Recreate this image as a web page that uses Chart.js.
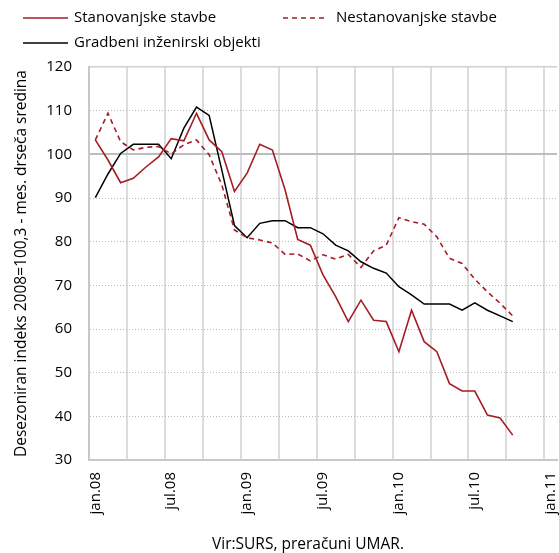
<!DOCTYPE html>
<html>
<head>
<meta charset="utf-8">
<script src="https://cdn.jsdelivr.net/npm/chart.js@4.4.1/dist/chart.umd.min.js"></script>
<style>
  html, body { margin: 0; padding: 0; background: #fff; }
</style>
</head>
<body>
<canvas id="chart" width="559" height="553"></canvas>
<script>
// mesecne kategorije, jan.08 - jan.11
const months = [
  'jan.08', 'feb.08', 'mar.08', 'apr.08', 'maj.08', 'jun.08', 'jul.08', 'avg.08', 'sep.08', 'okt.08', 'nov.08', 'dec.08',
  'jan.09', 'feb.09', 'mar.09', 'apr.09', 'maj.09', 'jun.09', 'jul.09', 'avg.09', 'sep.09', 'okt.09', 'nov.09', 'dec.09',
  'jan.10', 'feb.10', 'mar.10', 'apr.10', 'maj.10', 'jun.10', 'jul.10', 'avg.10', 'sep.10', 'okt.10', 'nov.10', 'dec.10',
  'jan.11'
];

const stanovanjske = [
  103.3, 98.7, 93.5, 94.5, 97.1, 99.4, 103.6, 103.1, 109.4, 103.3, 100.6, 91.5,
  95.7, 102.3, 101.0, 91.9, 80.5, 79.2, 72.4, 67.4, 61.7, 66.6, 62.0, 61.7,
  54.8, 64.3, 57.1, 54.8, 47.5, 45.8, 45.8, 40.3, 39.6, 35.7
];
const nestanovanjske = [
  103.3, 109.4, 102.9, 101.0, 101.6, 101.8, 100.1, 102.2, 103.3, 99.9, 93.0, 82.7,
  80.9, 80.4, 79.7, 77.1, 77.2, 75.6, 77.0, 76.0, 77.1, 74.1, 77.9, 79.2,
  85.5, 84.6, 84.0, 81.1, 76.2, 75.0, 71.4, 68.5, 65.9, 63.0
];
const gradbeni = [
  90.1, 95.5, 100.2, 102.3, 102.3, 102.3, 99.0, 106.0, 110.8, 108.9, 96.4, 83.7,
  80.9, 84.2, 84.8, 84.8, 83.2, 83.2, 81.8, 79.2, 77.9, 75.4, 73.9, 72.8,
  69.7, 67.8, 65.7, 65.7, 65.7, 64.3, 66.0, 64.3, 63.0, 61.7
];

const seriesNames = ['Stanovanjske stavbe', 'Nestanovanjske stavbe', 'Gradbeni inženirski objekti'];
const yTitle = 'Desezoniran indeks 2008=100,3 - mes. drseča sredina';
const sourceNote = 'Vir:SURS, preračuni UMAR.';

const RED = '#a51d24';
const FONT = '"Open Sans", sans-serif';

// legenda in vir sta narisana rocno, ker excel postavitev ni centrirana
const extras = {
  id: 'extras',
  afterDraw(chart) {
    const ctx = chart.ctx;
    const spots = [
      {i: 0, x: 23, y: 18, len: 45, gap: 6},
      {i: 1, x: 283, y: 18, len: 42, gap: 11},
      {i: 2, x: 23, y: 43, len: 45, gap: 6}
    ];
    ctx.save();
    ctx.font = '15px ' + FONT;
    ctx.textBaseline = 'middle';
    ctx.textAlign = 'left';
    spots.forEach(s => {
      const ds = chart.data.datasets[s.i];
      ctx.strokeStyle = ds.borderColor;
      ctx.lineWidth = ds.borderWidth;
      ctx.setLineDash(ds.borderDash || []);
      ctx.beginPath();
      ctx.moveTo(s.x, s.y);
      ctx.lineTo(s.x + s.len, s.y);
      ctx.stroke();
      ctx.fillStyle = '#000';
      ctx.fillText(ds.label, s.x + s.len + s.gap, s.y);
    });
    ctx.font = '15.5px ' + FONT;
    ctx.textAlign = 'center';
    ctx.fillText(sourceNote, 308, 545);
    ctx.restore();
  }
};

new Chart(document.getElementById('chart'), {
  type: 'line',
  data: {
    labels: months,
    datasets: [
      {
        label: seriesNames[0],
        data: stanovanjske,
        borderColor: RED,
        borderWidth: 1.6
      },
      {
        label: seriesNames[1],
        data: nestanovanjske,
        borderColor: RED,
        borderWidth: 1.6,
        borderDash: [5, 4]
      },
      {
        label: seriesNames[2],
        data: gradbeni,
        borderColor: '#000',
        borderWidth: 1.5
      }
    ]
  },
  options: {
    responsive: false,
    animation: false,
    devicePixelRatio: 1,
    layout: { padding: { top: 67, right: 2, bottom: 0, left: 0 } },
    elements: { point: { radius: 0 }, line: { tension: 0 } },
    plugins: {
      legend: { display: false },
      tooltip: { enabled: false }
    },
    scales: {
      x: {
        type: 'category',
        offset: true,
        grid: {
          offset: true,
          drawTicks: false,
          lineWidth: 2,
          color: ctx => (ctx.index % 3 === 0 || ctx.index === months.length) ? '#dcdcdc' : 'rgba(0,0,0,0)'
        },
        border: { color: '#c8c8c8', width: 2 },
        ticks: {
          autoSkip: false,
          minRotation: 90,
          maxRotation: 90,
          padding: 12,
          color: '#000',
          font: { family: FONT, size: 15 },
          callback: (v, i) => i % 6 === 0 ? months[i] : ''
        },
        afterFit: s => { s.height = 93; s.paddingLeft = 0; s.paddingRight = 0; }
      },
      y: {
        min: 30,
        max: 120,
        ticks: {
          stepSize: 10,
          padding: 17,
          color: '#000',
          font: { family: FONT, size: 15 }
        },
        grid: {
          drawTicks: false,
          lineWidth: 1,
          color: ctx => [30, 100, 120].includes(ctx.tick && ctx.tick.value) ? 'rgba(0,0,0,0)' : '#b8b8b8'
        },
        border: { color: '#c8c8c8', width: 2, dash: [1, 2] },
        title: {
          display: true,
          text: yTitle,
          color: '#000',
          font: { family: FONT, size: 15.5 },
          padding: { top: 12, bottom: 0 }
        },
        afterFit: s => { s.width = 89; s.paddingTop = 0; s.paddingBottom = 0; }
      },
      yRef: {
        position: 'left',
        min: 30,
        max: 120,
        afterBuildTicks: s => { s.ticks = [{ value: 100 }, { value: 120 }]; },
        ticks: { display: false },
        border: { display: false },
        grid: {
          drawTicks: false,
          lineWidth: ctx => ctx.tick && ctx.tick.value === 100 ? 2 : 1.5,
          color: ctx => ctx.tick && ctx.tick.value === 100 ? '#bdbdbd' : '#d0d0d0'
        },
        afterFit: s => { s.width = 0; s.paddingTop = 0; s.paddingBottom = 0; }
      }
    }
  },
  plugins: [extras]
});
</script>
</body>
</html>
